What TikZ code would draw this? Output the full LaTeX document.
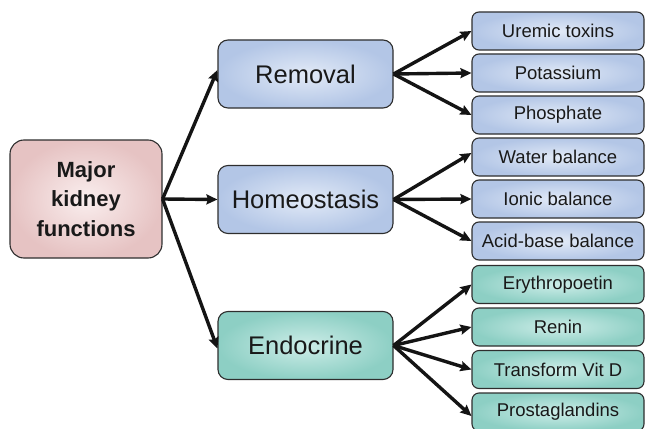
\documentclass[tikz,border=0pt]{standalone}
\usepackage{fontspec}
\setmainfont{Liberation Sans}
\usetikzlibrary{arrows.meta,shadings}
\definecolor{pinkin}{HTML}{FAEEEE}
\definecolor{pinkout}{HTML}{E6C3C3}
\definecolor{bluein}{HTML}{E2EAF7}
\definecolor{blueout}{HTML}{B3C6E6}
\definecolor{tealin}{HTML}{CDEDE8}
\definecolor{tealout}{HTML}{8DCFC4}
\definecolor{edge}{HTML}{2E2E2E}
\tikzset{
  box/.style={draw=edge, line width=1.1pt, align=center, text=black!90},
  mainbox/.style={box, rounded corners=14pt, minimum width=152pt, minimum height=118pt,
     inner color=pinkin, outer color=pinkout, font=\fontsize{22}{29.5}\selectfont\bfseries},
  midbox/.style={box, rounded corners=10pt, minimum width=175pt, minimum height=68pt,
     font=\fontsize{25.5}{30}\selectfont},
  leafbox/.style={box, rounded corners=7pt, minimum width=172pt, minimum height=38pt,
     font=\fontsize{18.5}{22}\selectfont},
  blue/.style={inner color=bluein, outer color=blueout},
  teal/.style={inner color=tealin, outer color=tealout},
  conn/.style={line width=3.4pt, draw=black!92, -{Stealth[length=11pt,width=10pt,inset=1.5pt]}},
}
\begin{document}
\begin{tikzpicture}[x=1pt,y=-1pt]
\useasboundingbox (0,0) rectangle (647,428);
\node[mainbox] (main) at (86,199) {Major\\kidney\\functions};
\node[midbox,blue] (rem) at (305.5,74) {Removal};
\node[midbox,blue] (hom) at (305.5,199.5) {Homeostasis};
\node[midbox,teal] (endo) at (305.5,345.5) {Endocrine};
\node[leafbox,blue] (ure) at (558,31) {Uremic toxins};
\node[leafbox,blue] (pot) at (558,73) {Potassium};
\node[leafbox,blue] (pho) at (558,115) {Phosphate};
\node[leafbox,blue] (wat) at (558,157) {Water balance};
\node[leafbox,blue] (ion) at (558,199) {Ionic balance};
\node[leafbox,blue] (aci) at (558,241) {Acid-base balance};
\node[leafbox,teal] (ery) at (558,284.5) {Erythropoetin};
\node[leafbox,teal] (ren) at (558,327) {Renin};
\node[leafbox,teal] (tra) at (558,369.5) {Transform Vit D};
\node[leafbox,teal] (pro) at (558,412) {Prostaglandins};
\coordinate (m0) at (main.east);
\coordinate (r0) at (rem.east);
\coordinate (h0) at (hom.east);
\coordinate (e0) at (endo.east);
\draw[conn] (m0) -- ([yshift=4pt]rem.west);
\draw[conn] (m0) -- (hom.west);
\draw[conn] (m0) -- ([yshift=-3pt]endo.west);
\draw[conn] (r0) -- (ure.west);
\draw[conn] (r0) -- (pot.west);
\draw[conn] (r0) -- (pho.west);
\draw[conn] (h0) -- ([yshift=4pt]wat.west);
\draw[conn] (h0) -- (ion.west);
\draw[conn] (h0) -- (aci.west);
\draw[conn] (e0) -- (ery.west);
\draw[conn] (e0) -- (ren.west);
\draw[conn] (e0) -- (tra.west);
\draw[conn] (e0) -- ([yshift=-4pt]pro.west);
\end{tikzpicture}
\end{document}
